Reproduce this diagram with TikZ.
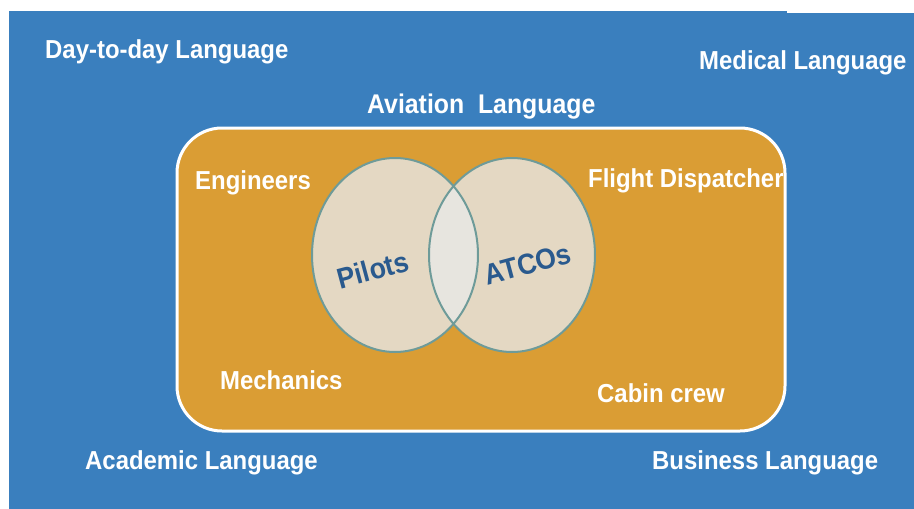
\documentclass[tikz,border=0pt]{standalone}
\usepackage{fontspec}
\setmainfont{Liberation Sans}
\newfontfamily\narrowsans[FakeStretch=0.92]{Liberation Sans}
\definecolor{bgblue}{HTML}{3A7FBE}
\definecolor{boxorange}{HTML}{DA9D34}
\definecolor{venn}{HTML}{E4D8C3}
\definecolor{lens}{HTML}{E7E5DF}
\definecolor{vennline}{HTML}{6E9B99}
\definecolor{darkblue}{HTML}{2A5A8E}
\begin{document}
\begin{tikzpicture}[x=1pt,y=-1pt,
  lbl/.style={text=white,font=\narrowsans\fontsize{26}{30}\selectfont\bfseries,inner sep=0pt,anchor=west},
  vlbl/.style={text=darkblue,font=\narrowsans\fontsize{29}{32}\selectfont\bfseries,inner sep=0pt,rotate=15}]
\useasboundingbox (0,0) rectangle (914,509);
\fill[white] (0,0) rectangle (914,509);
\fill[bgblue] (9,11) rectangle (914,509);
\fill[white] (787,0) rectangle (914,13);
% orange box
\fill[boxorange,rounded corners=45pt] (177,128) rectangle (785,431);
% venn
\fill[venn] (395,255) ellipse [x radius=83, y radius=97];
\fill[venn] (512,255) ellipse [x radius=83, y radius=97];
\begin{scope}
  \clip (395,255) ellipse [x radius=83, y radius=97];
  \fill[lens] (512,255) ellipse [x radius=83, y radius=97];
\end{scope}
\draw[vennline,line width=2pt] (395,255) ellipse [x radius=83, y radius=97];
\draw[vennline,line width=2pt] (512,255) ellipse [x radius=83, y radius=97];
\node[vlbl] (pilots) at (373,270) {Pilots};
\node[vlbl] (atcos) at (528,264) {ATCOs};
% inner labels
\node[lbl] (eng) at (195,183) {Engineers};
\begin{scope}
  \clip[rounded corners=45pt] (177,128) rectangle (785,431);
  \node[lbl] (fd) at (588,181) {Flight Dispatcher};
\end{scope}
\node[lbl] (mech) at (220,380) {Mechanics};
\node[lbl] (cabin) at (597,393) {Cabin crew};
\draw[white,line width=3pt,rounded corners=45pt] (177,128) rectangle (785,431);
% outer labels
\node[lbl] (day) at (45,52) {Day-to-day Language};
\node[lbl] (med) at (699,63) {Medical Language};
\node[lbl,font=\narrowsans\fontsize{27}{30}\selectfont\bfseries] (avi) at (367,107) {Aviation\ \ Language};
\node[lbl] (acad) at (85,463) {Academic Language};
\node[lbl] (bus) at (652,463) {Business Language};
\end{tikzpicture}
\end{document}
